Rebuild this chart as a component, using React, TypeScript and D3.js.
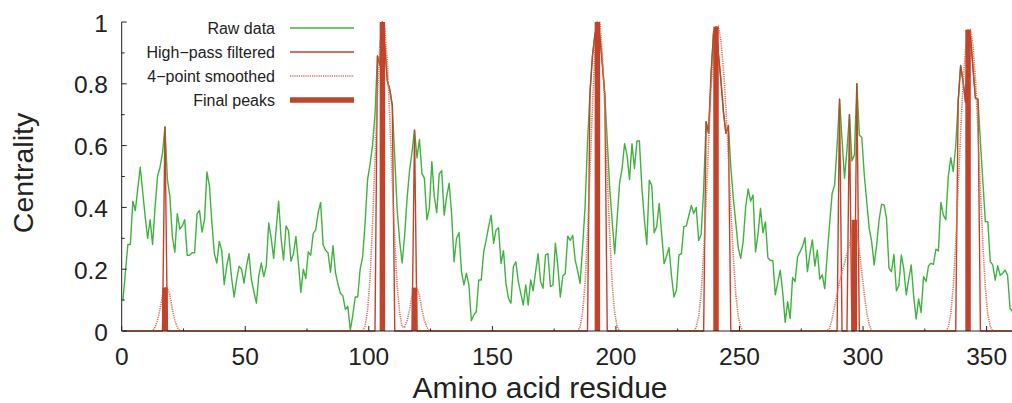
import React from "react";
import * as d3 from "d3";

// Raw centrality per residue (index 0..360)
const rawValues: number[] = [
  0.10, 0.19, 0.28, 0.28, 0.42, 0.39, 0.46, 0.53, 0.45, 0.37,
  0.30, 0.36, 0.28, 0.40, 0.50, 0.53, 0.575, 0.66, 0.49, 0.435,
  0.305, 0.255, 0.38, 0.33, 0.34, 0.36, 0.245, 0.245, 0.253, 0.253,
  0.38, 0.39, 0.32, 0.36, 0.515, 0.47, 0.35, 0.25, 0.22, 0.29,
  0.26, 0.15, 0.21, 0.25, 0.17, 0.11, 0.165, 0.21, 0.20, 0.155,
  0.21, 0.25, 0.165, 0.127, 0.09, 0.18, 0.22, 0.176, 0.21, 0.35,
  0.30, 0.235, 0.33, 0.42, 0.30, 0.23, 0.34, 0.325, 0.226, 0.25,
  0.306, 0.22, 0.125, 0.20, 0.17, 0.256, 0.245, 0.316, 0.327, 0.383,
  0.416, 0.279, 0.261, 0.253, 0.19, 0.276, 0.19, 0.152, 0.122, 0.114,
  0.07, 0.08, 0.003, 0.05, 0.11, 0.11, 0.20, 0.24, 0.35, 0.49,
  0.54, 0.60, 0.70, 0.89, 0.86, 1.0, 0.92, 0.81, 0.78, 0.73,
  0.56, 0.39, 0.29, 0.22, 0.31, 0.43, 0.52, 0.58, 0.65, 0.56,
  0.62, 0.51, 0.494, 0.36, 0.397, 0.548, 0.435, 0.383, 0.508, 0.519,
  0.375, 0.435, 0.478, 0.38, 0.224, 0.30, 0.318, 0.192, 0.149, 0.187,
  0.149, 0.033, 0.052, 0.063, 0.165, 0.165, 0.257, 0.295, 0.338, 0.375,
  0.284, 0.327, 0.334, 0.219, 0.26, 0.154, 0.106, 0.09, 0.208, 0.224,
  0.16, 0.122, 0.084, 0.149, 0.084, 0.165, 0.13, 0.192, 0.25, 0.16,
  0.138, 0.246, 0.25, 0.143, 0.149, 0.284, 0.21, 0.11, 0.178, 0.186,
  0.307, 0.293, 0.31, 0.23, 0.195, 0.154, 0.27, 0.40, 0.61, 0.77,
  0.89, 0.96, 0.995, 0.955, 0.865, 0.765, 0.615, 0.46, 0.355, 0.25,
  0.365, 0.48, 0.526, 0.606, 0.57, 0.49, 0.606, 0.526, 0.615, 0.615,
  0.464, 0.362, 0.28, 0.488, 0.471, 0.318, 0.338, 0.413, 0.316, 0.218,
  0.243, 0.27, 0.178, 0.11, 0.133, 0.246, 0.25, 0.338, 0.34, 0.373,
  0.406, 0.38, 0.40, 0.293, 0.313, 0.46, 0.677, 0.64, 0.83, 0.965,
  0.985, 0.895, 0.81, 0.71, 0.64, 0.665, 0.53, 0.43, 0.35, 0.27,
  0.235, 0.29, 0.40, 0.46, 0.42, 0.44, 0.256, 0.313, 0.397, 0.318,
  0.353, 0.237, 0.228, 0.228, 0.117, 0.157, 0.197, 0.125, 0.028, 0.095,
  0.04, 0.173, 0.16, 0.24, 0.256, 0.273, 0.302, 0.192, 0.25, 0.295,
  0.21, 0.262, 0.168, 0.182, 0.137, 0.248, 0.35, 0.445, 0.472, 0.60,
  0.75, 0.62, 0.494, 0.586, 0.70, 0.55, 0.57, 0.80, 0.634, 0.626,
  0.505, 0.419, 0.332, 0.289, 0.214, 0.278, 0.36, 0.41, 0.408, 0.365,
  0.203, 0.192, 0.248, 0.13, 0.147, 0.246, 0.20, 0.117, 0.168, 0.214,
  0.111, 0.039, 0.104, 0.06, 0.176, 0.16, 0.211, 0.219, 0.216, 0.265,
  0.259, 0.416, 0.375, 0.36, 0.50, 0.561, 0.516, 0.597, 0.742, 0.859,
  0.807, 0.74, 0.974, 0.953, 0.85, 0.753, 0.75, 0.613, 0.483, 0.354,
  0.354, 0.224, 0.214, 0.165, 0.211, 0.18, 0.187, 0.197, 0.18, 0.073,
  0.063,
];

// High-pass filtered: non-zero residues only (all others are 0)
const filteredResidues: number[] = [
  17,
  103, 104, 105, 106, 107, 108, 109,
  118,
  189, 190, 191, 192, 193, 194, 195,
  236, 237, 238, 239, 240, 241, 242, 243, 244, 245,
  290, 294, 297,
  338, 339, 340, 341, 342, 343, 344, 345, 346,
];
const filteredValues: number[] = [
  0.66,
  0.89, 0.86, 1.0, 0.92, 0.81, 0.78, 0.73,
  0.65,
  0.77, 0.89, 0.96, 0.995, 0.955, 0.865, 0.765,
  0.677, 0.64, 0.83, 0.965, 0.985, 0.895, 0.81, 0.71, 0.64, 0.665,
  0.75, 0.70, 0.80,
  0.742, 0.859, 0.807, 0.74, 0.974, 0.953, 0.85, 0.753, 0.75,
];

// 4-point smoothed: non-zero residues only
const smoothedResidues: number[] = [
  13, 14, 15, 16, 17, 18, 19, 20, 21, 22,
  98, 99, 100, 101, 102, 103, 104, 105, 106, 107, 108, 109, 110, 111, 112, 113,
  114, 115, 116, 117, 118, 119, 120, 121, 122, 123,
  185, 186, 187, 188, 189, 190, 191, 192, 193, 194, 195, 196, 197, 198, 199, 200,
  232, 233, 234, 235, 236, 237, 238, 239, 240, 241, 242, 243, 244, 245, 246, 247, 248, 249, 250,
  286, 287, 288, 289, 290, 291, 292, 293, 294, 295, 296, 297, 298, 299, 300, 301, 302,
  334, 335, 336, 337, 338, 339, 340, 341, 342, 343, 344, 345, 346, 347, 348, 349, 350, 351,
];
const smoothedValues: number[] = [
  0.012, 0.035, 0.07, 0.117, 0.14, 0.14, 0.117, 0.07, 0.035, 0.012,
  0.017, 0.068, 0.172, 0.346, 0.555, 0.765, 0.931, 1.0, 0.977, 0.867, 0.685, 0.485, 0.295, 0.145, 0.057, 0.014,
  0.012, 0.034, 0.069, 0.115, 0.138, 0.138, 0.115, 0.069, 0.034, 0.012,
  0.014, 0.059, 0.153, 0.313, 0.516, 0.726, 0.906, 1.0, 0.998, 0.90, 0.719, 0.509, 0.309, 0.151, 0.059, 0.014,
  0.012, 0.048, 0.123, 0.253, 0.421, 0.607, 0.782, 0.906, 0.975, 0.985, 0.939, 0.85, 0.724, 0.563, 0.395, 0.242, 0.119, 0.048, 0.012,
  0.01, 0.04, 0.08, 0.12, 0.16, 0.19, 0.22, 0.25, 0.28, 0.32, 0.36, 0.32, 0.26, 0.19, 0.12, 0.06, 0.02,
  0.013, 0.056, 0.142, 0.284, 0.461, 0.643, 0.802, 0.91, 0.97, 0.975, 0.924, 0.816, 0.649, 0.46, 0.28, 0.138, 0.054, 0.014,
];

// Final peaks (impulses)
const peakResidues: number[] = [17, 105, 118, 192, 240, 296, 342];
const peakHeights: number[] = [0.14, 1.0, 0.14, 1.0, 0.985, 0.36, 0.975];

const xTicks: number[] = [0, 50, 100, 150, 200, 250, 300, 350];
const yTicks: number[] = [0, 0.2, 0.4, 0.6, 0.8, 1];
const yTickLabels: string[] = ["0", "0.2", "0.4", "0.6", "0.8", "1"];

const legendLabels: string[] = ["Raw data", "High\u2212pass filtered", "4\u2212point smoothed", "Final peaks"];

const W = 1012;
const H = 403;
const GREEN = "#3fb23f";
const RED = "#c0432b";
const DOT = "#d8705c";
const TEXT = "#222";
const FONT = "'Liberation Sans', Arial, Helvetica, sans-serif";

export default function App() {
  const x = d3.scaleLinear().domain([0, 360]).range([121.7, 1011.3]);
  const y = d3.scaleLinear().domain([0, 1]).range([331, 22]);
  const px = (i: number) => x(i + 0.5);

  const n = rawValues.length;
  const filtered = new Array(n).fill(0);
  filteredResidues.forEach((r, k) => (filtered[r] = filteredValues[k]));
  const smoothed = new Array(n).fill(0);
  smoothedResidues.forEach((r, k) => (smoothed[r] = smoothedValues[k]));

  const line = d3
    .line<number>()
    .x((_, i) => px(i))
    .y((v) => y(v));

  const xMinor = d3.range(25, 360, 50);
  const yMinor = d3.range(0.1, 1, 0.2);

  const legendRowY = (k: number) => 28 + k * 24;

  return (
    <svg
      width={W}
      height={H}
      style={{ position: "absolute", left: 0, top: 0, background: "#fff" }}
      fontFamily={FONT}
    >
      <rect x={0} y={0} width={W} height={H} fill="#fff" />
      {/* data */}
      <path d={line(rawValues) || ""} fill="none" stroke={GREEN} strokeWidth={1.4} strokeLinejoin="round" />
      <path d={line(filtered) || ""} fill="none" stroke={RED} strokeWidth={1.4} strokeLinejoin="round" />
      <path
        d={line(smoothed) || ""}
        fill="none"
        stroke={DOT}
        strokeWidth={1.6}
        strokeDasharray="1.2 1"
      />
      {peakResidues.map((r, k) => (
        <line
          key={"pk" + k}
          x1={px(r)}
          x2={px(r)}
          y1={y(0)}
          y2={y(peakHeights[k])}
          stroke={RED}
          strokeWidth={5.5}
        />
      ))}

      {/* axes */}
      <line x1={x(0)} x2={x(0)} y1={y(0)} y2={y(1)} stroke={TEXT} strokeWidth={1} />
      <line x1={x(0)} x2={W} y1={y(0)} y2={y(0)} stroke={TEXT} strokeWidth={1} />
      {xTicks.map((t) => (
        <g key={"xt" + t}>
          <line x1={x(t)} x2={x(t)} y1={y(0)} y2={y(0) - 5} stroke={TEXT} strokeWidth={1} />
          <text x={x(t)} y={364.5} textAnchor="middle" fontSize={24.5} fill={TEXT}>
            {t}
          </text>
        </g>
      ))}
      {xMinor.map((t) => (
        <line key={"xm" + t} x1={x(t)} x2={x(t)} y1={y(0)} y2={y(0) - 2.5} stroke={TEXT} strokeWidth={1} />
      ))}
      {yTicks.map((t, k) => (
        <g key={"yt" + k}>
          <line x1={x(0)} x2={x(0) + 5} y1={y(t)} y2={y(t)} stroke={TEXT} strokeWidth={1} />
          <text x={108} y={y(t) + 1} textAnchor="end" dominantBaseline="central" fontSize={24.5} fill={TEXT}>
            {yTickLabels[k]}
          </text>
        </g>
      ))}
      {yMinor.map((t, k) => (
        <line key={"ym" + k} x1={x(0)} x2={x(0) + 3} y1={y(t)} y2={y(t)} stroke={TEXT} strokeWidth={1} />
      ))}

      {/* axis titles */}
      <text
        transform={`translate(23,${173}) rotate(-90)`}
        textAnchor="middle"
        dominantBaseline="central"
        fontSize={28.5}
        fill={TEXT}
      >
        Centrality
      </text>
      <text x={540} y={397.5} textAnchor="middle" fontSize={30} fill={TEXT}>
        Amino acid residue
      </text>

      {/* legend */}
      {legendLabels.map((lab, k) => (
        <text
          key={"lg" + k}
          x={275}
          y={legendRowY(k)}
          textAnchor="end"
          dominantBaseline="central"
          fontSize={16}
          fill={TEXT}
        >
          {lab}
        </text>
      ))}
      <line x1={290} x2={354} y1={legendRowY(0)} y2={legendRowY(0)} stroke={GREEN} strokeWidth={1.4} />
      <line x1={290} x2={354} y1={legendRowY(1)} y2={legendRowY(1)} stroke={RED} strokeWidth={1.4} />
      <line
        x1={290}
        x2={354}
        y1={legendRowY(2)}
        y2={legendRowY(2)}
        stroke={DOT}
        strokeWidth={1.6}
        strokeDasharray="1.2 1"
      />
      <line x1={290} x2={354} y1={legendRowY(3)} y2={legendRowY(3)} stroke={RED} strokeWidth={5.5} />
    </svg>
  );
}
